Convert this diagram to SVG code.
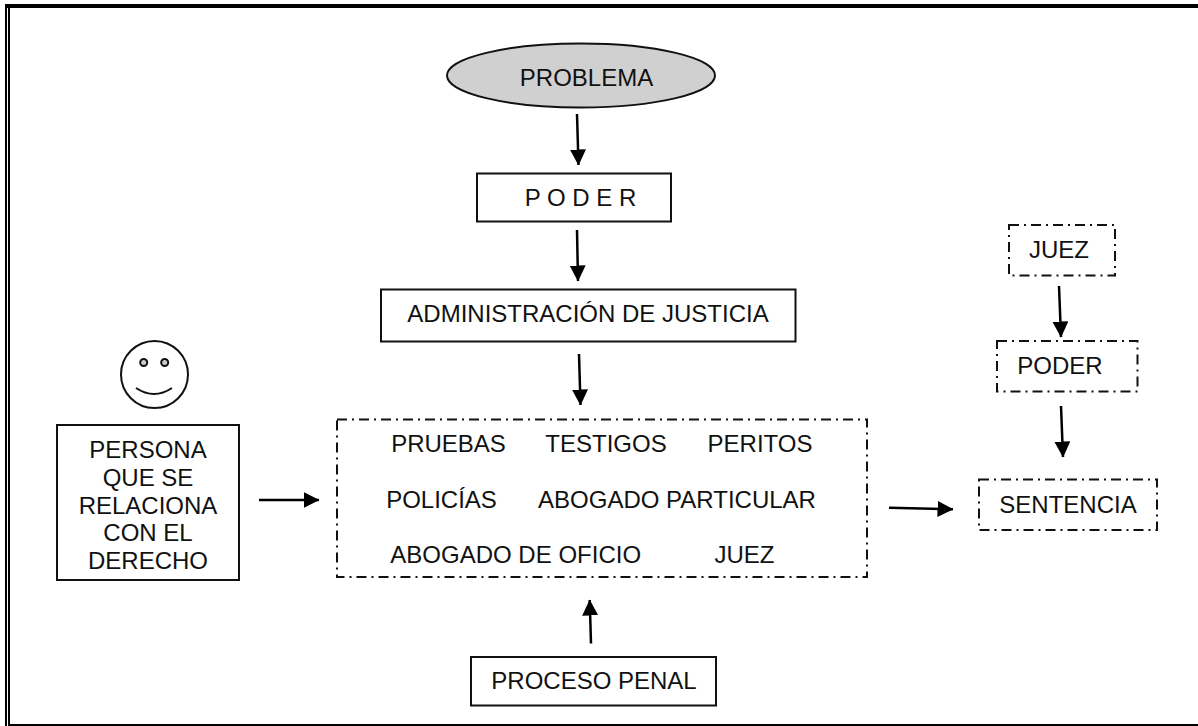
<svg xmlns="http://www.w3.org/2000/svg" width="1198" height="726" viewBox="0 0 1198 726">
<style>
text{font-family:"Liberation Sans",Arial,sans-serif;font-size:24px;fill:#111;text-anchor:middle}
.box{fill:#fff;stroke:#111;stroke-width:2}
.dd{fill:none;stroke:#111;stroke-width:2;stroke-dasharray:10 5 2 5}
.c{stroke:#000;stroke-width:2.500;fill:none;marker-end:url(#a)}
</style>
<defs><marker id="a" markerUnits="userSpaceOnUse" markerWidth="16" markerHeight="16" refX="15.500" refY="8" orient="auto"><path d="M0 0L16 8L0 16Z" fill="#000"/></marker></defs>
<rect width="1198" height="726" fill="#fff"/>
<g id="frame"><path d="M6 4V726" stroke="#000" stroke-width="2" fill="none"/><path d="M5 6H1198" stroke="#000" stroke-width="4" fill="none"/><path d="M9 6V726" stroke="#000" stroke-width="2" fill="none"/><path d="M8 725H1198" stroke="#000" stroke-width="2" fill="none"/></g>
<g id="connectors">
<path class="c" d="M577 114L578.500 165"/>
<path class="c" d="M577 230L578 281"/>
<path class="c" d="M579 354L580.500 405"/>
<path class="c" d="M259 500L319 500"/>
<path class="c" d="M591 643.500L589.700 600"/>
<path class="c" d="M889 507.700L953 509.300"/>
<path class="c" d="M1059 286L1061 337"/>
<path class="c" d="M1061 406L1063 457"/>
</g>
<g id="problema"><ellipse class="box" cx="581" cy="75.500" rx="134" ry="32" style="fill:#d0d0d0"/><text x="586.500" y="85.500">PROBLEMA</text></g>
<g id="poder1"><rect class="box" x="477" y="173.500" width="194" height="48"/><text x="580.500" y="205.500">P O D E R</text></g>
<g id="admin"><rect class="box" x="381" y="289.500" width="414.500" height="52"/><text x="588" y="321.500">ADMINISTRACIÓN DE JUSTICIA</text></g>
<g id="persona-icon"><circle cx="154.500" cy="374.500" r="33.500" fill="#fff" stroke="#111" stroke-width="2"/><circle cx="143.700" cy="362.500" r="3.500" fill="#ccc" stroke="#111" stroke-width="2"/><circle cx="164.700" cy="362.500" r="3.500" fill="#ccc" stroke="#111" stroke-width="2"/><path d="M136 388Q154 400 172 388" fill="none" stroke="#111" stroke-width="2"/></g>
<g id="persona"><rect class="box" x="57" y="425" width="182" height="155"/><text x="148" y="457.500">PERSONA</text><text x="148" y="485.500">QUE SE</text><text x="148" y="513.500">RELACIONA</text><text x="148" y="541">CON EL</text><text x="148" y="569">DERECHO</text></g>
<g id="centro"><rect class="dd" x="337" y="419.500" width="530" height="157.500"/>
<text x="448.500" y="451.700">PRUEBAS</text><text x="606" y="451.700">TESTIGOS</text><text x="760" y="451.700">PERITOS</text>
<text x="441.500" y="507.700">POLICÍAS</text><text x="677" y="507.700">ABOGADO PARTICULAR</text>
<text x="515.700" y="563.300">ABOGADO DE OFICIO</text><text x="744.500" y="563.300">JUEZ</text></g>
<g id="proceso"><rect class="box" x="471" y="657" width="245" height="48.500"/><text x="594" y="689">PROCESO PENAL</text></g>
<g id="juez"><rect class="dd" x="1009" y="225" width="106" height="50.500"/><text x="1059" y="258">JUEZ</text></g>
<g id="poder2"><rect class="dd" x="997" y="341" width="140.500" height="50.500"/><text x="1060" y="374">PODER</text></g>
<g id="sentencia"><rect class="dd" x="979" y="479.500" width="178" height="50.500"/><text x="1068" y="512.500">SENTENCIA</text></g>
</svg>
